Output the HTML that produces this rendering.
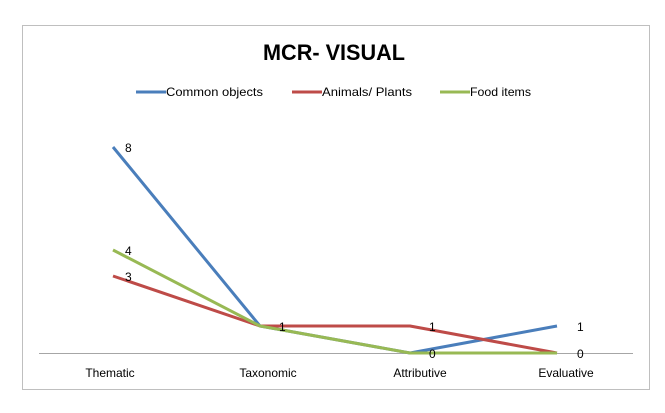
<!DOCTYPE html>
<html><head><style>
body{margin:0;background:#fff;}
svg text{font-family:"Liberation Sans",sans-serif;}
</style></head><body>
<svg width="665" height="408" viewBox="0 0 665 408" xmlns="http://www.w3.org/2000/svg">
<rect x="22.5" y="25.5" width="627" height="364" fill="#fff" stroke="#bfbfbf" stroke-width="1"/>
<text x="334" y="60" text-anchor="middle" font-size="22" font-weight="bold" fill="#000" textLength="142" lengthAdjust="spacingAndGlyphs">MCR- VISUAL</text>
<g font-size="12" fill="#000">
<line x1="136" y1="92" x2="166" y2="92" stroke="#4a7ebb" stroke-width="3"/>
<text x="166" y="96" textLength="97" lengthAdjust="spacingAndGlyphs">Common objects</text>
<line x1="292" y1="92" x2="322" y2="92" stroke="#be4b48" stroke-width="3"/>
<text x="322" y="96" textLength="90" lengthAdjust="spacingAndGlyphs">Animals/ Plants</text>
<line x1="440" y1="92" x2="470" y2="92" stroke="#98b954" stroke-width="3"/>
<text x="470" y="96" textLength="61" lengthAdjust="spacingAndGlyphs">Food items</text>
</g>
<line x1="39" y1="353.5" x2="633" y2="353.5" stroke="#a6a6a6" stroke-width="1"/>
<polyline points="113,147 260,326 410,353 557,326" fill="none" stroke="#4a7ebb" stroke-width="3" stroke-linejoin="round"/>
<polyline points="113,276 260,326 410,326 557,353" fill="none" stroke="#be4b48" stroke-width="3" stroke-linejoin="round"/>
<polyline points="113,250 260,326 410,353 557,353" fill="none" stroke="#98b954" stroke-width="3" stroke-linejoin="round"/>
<g font-size="12" fill="#000">
<text x="125" y="152">8</text>
<text x="125" y="255">4</text>
<text x="125" y="281">3</text>
<text x="279" y="331">1</text>
<text x="429" y="331">1</text>
<text x="429" y="358">0</text>
<text x="577" y="331">1</text>
<text x="577" y="358">0</text>
<text x="110" y="377" text-anchor="middle">Thematic</text>
<text x="268" y="377" text-anchor="middle">Taxonomic</text>
<text x="420" y="377" text-anchor="middle">Attributive</text>
<text x="566" y="377" text-anchor="middle">Evaluative</text>
</g>
</svg>
</body></html>
